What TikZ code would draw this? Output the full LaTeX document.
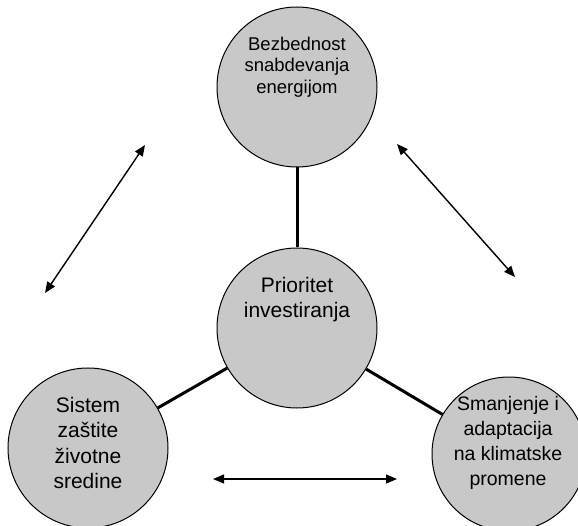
\documentclass[tikz,border=0pt]{standalone}
\usepackage{fontspec}
\setmainfont{Liberation Sans}
\usetikzlibrary{arrows.meta}
\definecolor{circlegray}{RGB}{200,200,200}
\tikzset{
    theme-circle/.style = {circle, draw=black, fill=circlegray, line width=1pt, inner sep=0pt},
    theme-text/.style = {align=center, inner sep=0pt},
    link-line/.style = {line width=3pt},
    relation-arrow/.style = {line width=1.4pt, {Triangle[length=11pt,width=9pt]}-{Triangle[length=11pt,width=9pt]}},
}

\begin{document}
\begin{tikzpicture}[x=1pt, y=-1pt]
\useasboundingbox (0,0) rectangle (578,526);
\node [theme-circle, minimum size=160pt] (energy) at (297,87) {};
\node [theme-circle, minimum size=160pt] (priority) at (297,328) {};
\node [theme-circle, minimum size=160pt] (environment) at (88,448) {};
\node [theme-circle, minimum size=154pt] (climate) at (509,454) {};
\node [theme-text, font=\fontsize{18.5}{21.5}\selectfont] (energy-text) at (297,67) {Bezbednost\\snabdevanja\\energijom};
\node [theme-text, font=\fontsize{21}{25}\selectfont] (priority-text) at (297,300) {Prioritet\\investiranja};
\node [theme-text, font=\fontsize{21}{25.5}\selectfont] (environment-text) at (88,443) {Sistem\\zaštite\\životne\\sredine};
\node [theme-text, font=\fontsize{19.5}{25}\selectfont] (climate-text) at (508,443) {Smanjenje i\\adaptacija\\na klimatske\\promene};
\draw [link-line] (energy) -- (priority);
\draw [link-line] (priority) -- (environment);
\draw [link-line] (priority) -- (climate);
\coordinate (left-low) at (45,293);
\coordinate (left-high) at (145,145);
\coordinate (right-high) at (397,144);
\coordinate (right-low) at (515,277);
\coordinate (bottom-left) at (213,479);
\coordinate (bottom-right) at (397,479);
\draw [relation-arrow] (left-low) -- (left-high);
\draw [relation-arrow] (right-high) -- (right-low);
\draw [relation-arrow] (bottom-left) -- (bottom-right);
\end{tikzpicture}
\end{document}
